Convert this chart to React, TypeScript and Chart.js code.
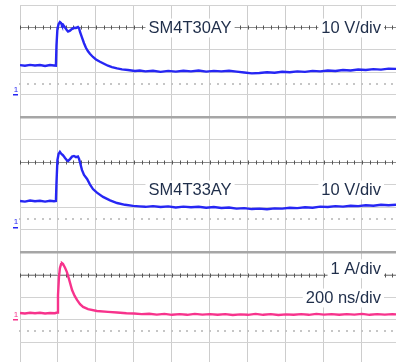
import React, { useEffect, useRef } from "react";
import { Chart, registerables } from "chart.js";

Chart.register(...registerables);

// ---- Data (time in ns, 200 ns/div) ----
const ch1Time = [0, 26, 53, 79, 105, 132, 158, 179, 189, 192, 197, 203, 210, 216, 221, 226, 237, 247, 253, 263, 274, 284, 295, 305, 311, 316, 326, 337, 347, 358, 368, 384, 400, 421, 442, 463, 484, 511, 537, 568, 605, 630,
  660, 700, 740, 780, 820, 860, 900, 940, 980, 1020, 1060, 1100, 1140, 1180, 1220, 1260, 1300, 1340, 1380, 1420, 1460, 1500, 1540, 1580, 1620, 1660, 1700, 1740, 1780, 1820, 1860, 1900, 1940, 1979];
const ch1Volts = [11.3, 11.0, 11.4, 11.1, 11.3, 10.9, 11.3, 11.1, 11.0, 20.0, 27.5, 29.5, 30.4, 30.0, 29.0, 29.3, 28.0, 26.8, 26.2, 26.6, 27.4, 27.9, 27.8, 28.2, 27.6, 26.0, 23.6, 21.0, 19.0, 17.4, 16.3, 14.9, 13.8, 12.8, 11.9, 11.0, 10.4, 9.8, 9.4, 9.1, 8.7, 8.9,
  8.5, 8.8, 8.3, 8.7, 8.4, 8.8, 8.5, 8.9, 8.4, 8.7, 8.5, 8.8, 8.4, 8.0, 7.6, 7.8, 8.1, 7.9, 8.3, 8.1, 8.5, 8.3, 8.7, 8.5, 8.9, 8.7, 9.1, 8.9, 9.3, 9.1, 9.5, 9.3, 9.7, 9.6];

const ch2Time = [0, 26, 53, 79, 105, 132, 158, 179, 189, 192, 197, 203, 210, 216, 221, 226, 237, 247, 253, 263, 274, 284, 295, 305, 311, 316, 326, 337, 353, 368, 384, 405, 437, 474, 511, 553, 595, 628,
  660, 700, 740, 780, 820, 860, 900, 940, 980, 1020, 1060, 1100, 1140, 1180, 1220, 1260, 1300, 1340, 1380, 1420, 1460, 1500, 1540, 1580, 1620, 1660, 1700, 1740, 1780, 1820, 1860, 1900, 1940, 1979];
const ch2Volts = [9.9, 9.6, 10.1, 9.8, 10.0, 9.6, 10.0, 9.8, 9.9, 18.0, 28.0, 30.8, 31.7, 31.0, 30.6, 30.3, 29.0, 28.0, 27.7, 28.5, 29.6, 29.9, 29.4, 29.7, 28.6, 27.0, 23.7, 21.5, 19.7, 17.3, 15.2, 13.6, 11.7, 10.2, 9.0, 8.2, 7.7, 7.5,
  7.3, 7.6, 7.2, 7.5, 7.0, 7.4, 7.1, 7.3, 6.9, 7.2, 6.8, 7.0, 6.5, 6.7, 6.3, 6.5, 6.2, 6.6, 6.5, 6.9, 6.7, 7.1, 6.9, 7.4, 7.2, 7.6, 7.4, 7.8, 7.6, 8.0, 7.8, 8.2, 8.0, 8.2];

const ch3Time = [0, 26, 53, 79, 105, 132, 158, 184, 195, 200, 205, 210, 216, 221, 226, 237, 247, 258, 274, 287, 300, 316, 332, 358, 405, 463, 511, 560,
  600, 640, 680, 720, 760, 800, 840, 880, 920, 960, 1000, 1040, 1080, 1120, 1160, 1200, 1240, 1280, 1320, 1360, 1400, 1440, 1480, 1520, 1560, 1600, 1640, 1680, 1720, 1760, 1800, 1840, 1880, 1920, 1960, 1979];
const ch3Amps = [0.11, 0.09, 0.12, 0.10, 0.12, 0.09, 0.11, 0.10, 0.13, 0.9, 1.7, 2.1, 2.28, 2.33, 2.30, 2.12, 1.93, 1.62, 1.13, 0.88, 0.69, 0.50, 0.38, 0.28, 0.20, 0.16, 0.13, 0.10,
  0.09, 0.06, 0.08, 0.04, 0.07, 0.03, 0.06, 0.03, 0.07, 0.04, 0.06, 0.03, 0.06, 0.02, 0.05, 0.03, 0.07, 0.03, 0.06, 0.02, 0.05, 0.03, 0.06, 0.03, 0.07, 0.04, 0.06, 0.03, 0.06, 0.04, 0.07, 0.03, 0.06, 0.04, 0.06, 0.05];

// ---- Labels ----
const labelTexts = ["SM4T30AY", "10 V/div", "SM4T33AY", "10 V/div", "1 A/div", "200 ns/div"];
const labelTimes = [895, 1900, 895, 1900, 1900, 1900];
const labelDivs = [15, 15, 7.8, 7.8, 4.3, 3.0];
const labelAligns = ["center", "right", "center", "right", "right", "right"];

// ---- Screen setup (divisions) ----
const TIME_MAX = 1979;
const NS_PER_DIV = 200;
const MINOR_NS = 40;
const DIV_TOP = 16;
const DIV_BOTTOM = 0.133;
const THICK_LINES = [11, 5];
const CENTER_LINES = [15, 9, 4];
const DOTTED_LINES = [12.5, 6.5, 1.5];

const BLUE = "#2626f4";
const PINK = "#f7338c";
const TEXT = "#1f2e4a";

const channels = [
  { time: ch1Time, values: ch1Volts, ground: 12.2, perDiv: 10, color: BLUE },
  { time: ch2Time, values: ch2Volts, ground: 6.3, perDiv: 10, color: BLUE },
  { time: ch3Time, values: ch3Amps, ground: 2.2, perDiv: 1, color: PINK },
];

const isThick = (v: number) => THICK_LINES.some((t) => Math.abs(v - t) < 1e-6);

const scopePlugin = {
  id: "scopeDecor",
  beforeDatasetsDraw(chart: any) {
    const { ctx, chartArea: a, scales } = chart;
    const x = scales.x;
    const y = scales.y;
    ctx.save();

    // dotted half-division lines
    ctx.fillStyle = "#c6c6c6";
    for (const v of DOTTED_LINES) {
      const py = Math.round(y.getPixelForValue(v));
      for (let t = 0; t <= TIME_MAX; t += MINOR_NS) {
        const px = Math.round(x.getPixelForValue(t));
        ctx.fillRect(px - 1, py - 1, 2, 2);
      }
    }

    // center lines with minor ticks
    for (const v of CENTER_LINES) {
      const py = Math.round(y.getPixelForValue(v)) + 0.5;
      ctx.strokeStyle = "#8c8c8c";
      ctx.lineWidth = 1;
      ctx.beginPath();
      ctx.moveTo(a.left, py);
      ctx.lineTo(a.right, py);
      ctx.stroke();
      ctx.strokeStyle = "#555";
      ctx.beginPath();
      for (let t = 0; t <= TIME_MAX; t += MINOR_NS) {
        const px = Math.round(x.getPixelForValue(t)) + 0.5;
        ctx.moveTo(px, py - 2);
        ctx.lineTo(px, py + 2);
      }
      ctx.stroke();
    }

    // ground markers
    for (const ch of channels) {
      const py = y.getPixelForValue(ch.ground);
      ctx.fillStyle = ch.color;
      ctx.font = '8px "Liberation Sans", Arial, sans-serif';
      ctx.textAlign = "center";
      ctx.textBaseline = "middle";
      ctx.fillText("1", a.left - 4, py - 1);
      ctx.fillRect(a.left - 7, Math.round(py) + 4, 5, 1.5);
    }

    // labels with white background
    const fs = 16.5;
    ctx.font = `${fs}px "Liberation Sans", Arial, sans-serif`;
    ctx.textBaseline = "alphabetic";
    ctx.textAlign = "left";
    labelTexts.forEach((txt, i) => {
      const w = ctx.measureText(txt).width;
      const px = x.getPixelForValue(labelTimes[i]);
      const left = labelAligns[i] === "center" ? px - w / 2 : labelAligns[i] === "right" ? px - w : px;
      const base = y.getPixelForValue(labelDivs[i]) + 0.36 * fs;
      ctx.fillStyle = "#ffffff";
      ctx.fillRect(left - 3, base - 0.72 * fs - 3, w + 6, 0.72 * fs + 7);
      ctx.fillStyle = TEXT;
      ctx.fillText(txt, left, base);
    });

    ctx.restore();
  },
};

export default function App() {
  const ref = useRef<HTMLCanvasElement | null>(null);
  useEffect(() => {
    if (!ref.current) return;
    const chart = new Chart(ref.current, {
      type: "scatter",
      data: {
        datasets: channels.map((ch) => ({
          data: ch.time.map((t, i) => ({ x: t, y: ch.ground + ch.values[i] / ch.perDiv })),
          borderColor: ch.color,
          backgroundColor: ch.color,
          borderWidth: 2.4,
          pointRadius: 0,
          showLine: true,
          tension: 0,
          fill: false,
        })),
      },
      options: {
        animation: false,
        responsive: false,
        devicePixelRatio: 1,
        layout: { padding: { left: 20, top: 5, right: 0, bottom: 0 } },
        plugins: { legend: { display: false }, tooltip: { enabled: false } },
        scales: {
          x: {
            type: "linear",
            min: 0,
            max: TIME_MAX,
            afterBuildTicks: (s: any) => {
              const ticks = [];
              for (let t = 0; t <= TIME_MAX; t += NS_PER_DIV) ticks.push({ value: t });
              s.ticks = ticks;
            },
            ticks: { display: false },
            border: { display: false },
            grid: { display: true, drawOnChartArea: true, drawTicks: false, color: "#cdcdcd", lineWidth: 1 },
          },
          y: {
            type: "linear",
            min: DIV_BOTTOM,
            max: DIV_TOP,
            afterBuildTicks: (s: any) => {
              const ticks = [];
              for (let v = Math.ceil(DIV_BOTTOM); v <= DIV_TOP; v += 1) ticks.push({ value: v });
              s.ticks = ticks;
            },
            ticks: { display: false },
            border: { display: false },
            grid: {
              drawTicks: false,
              color: (c: any) => (c.tick && isThick(c.tick.value) ? "#a6a6a6" : "#d2d2d2"),
              lineWidth: (c: any) => (c.tick && isThick(c.tick.value) ? 2.5 : 1),
            },
          },
        },
      },
      plugins: [scopePlugin],
    });
    return () => chart.destroy();
  }, []);

  return (
    <div style={{ position: "fixed", left: 0, top: 0, width: 396, height: 362, background: "#fff" }}>
      <canvas ref={ref} width={396} height={362} style={{ display: "block" }} />
    </div>
  );
}
